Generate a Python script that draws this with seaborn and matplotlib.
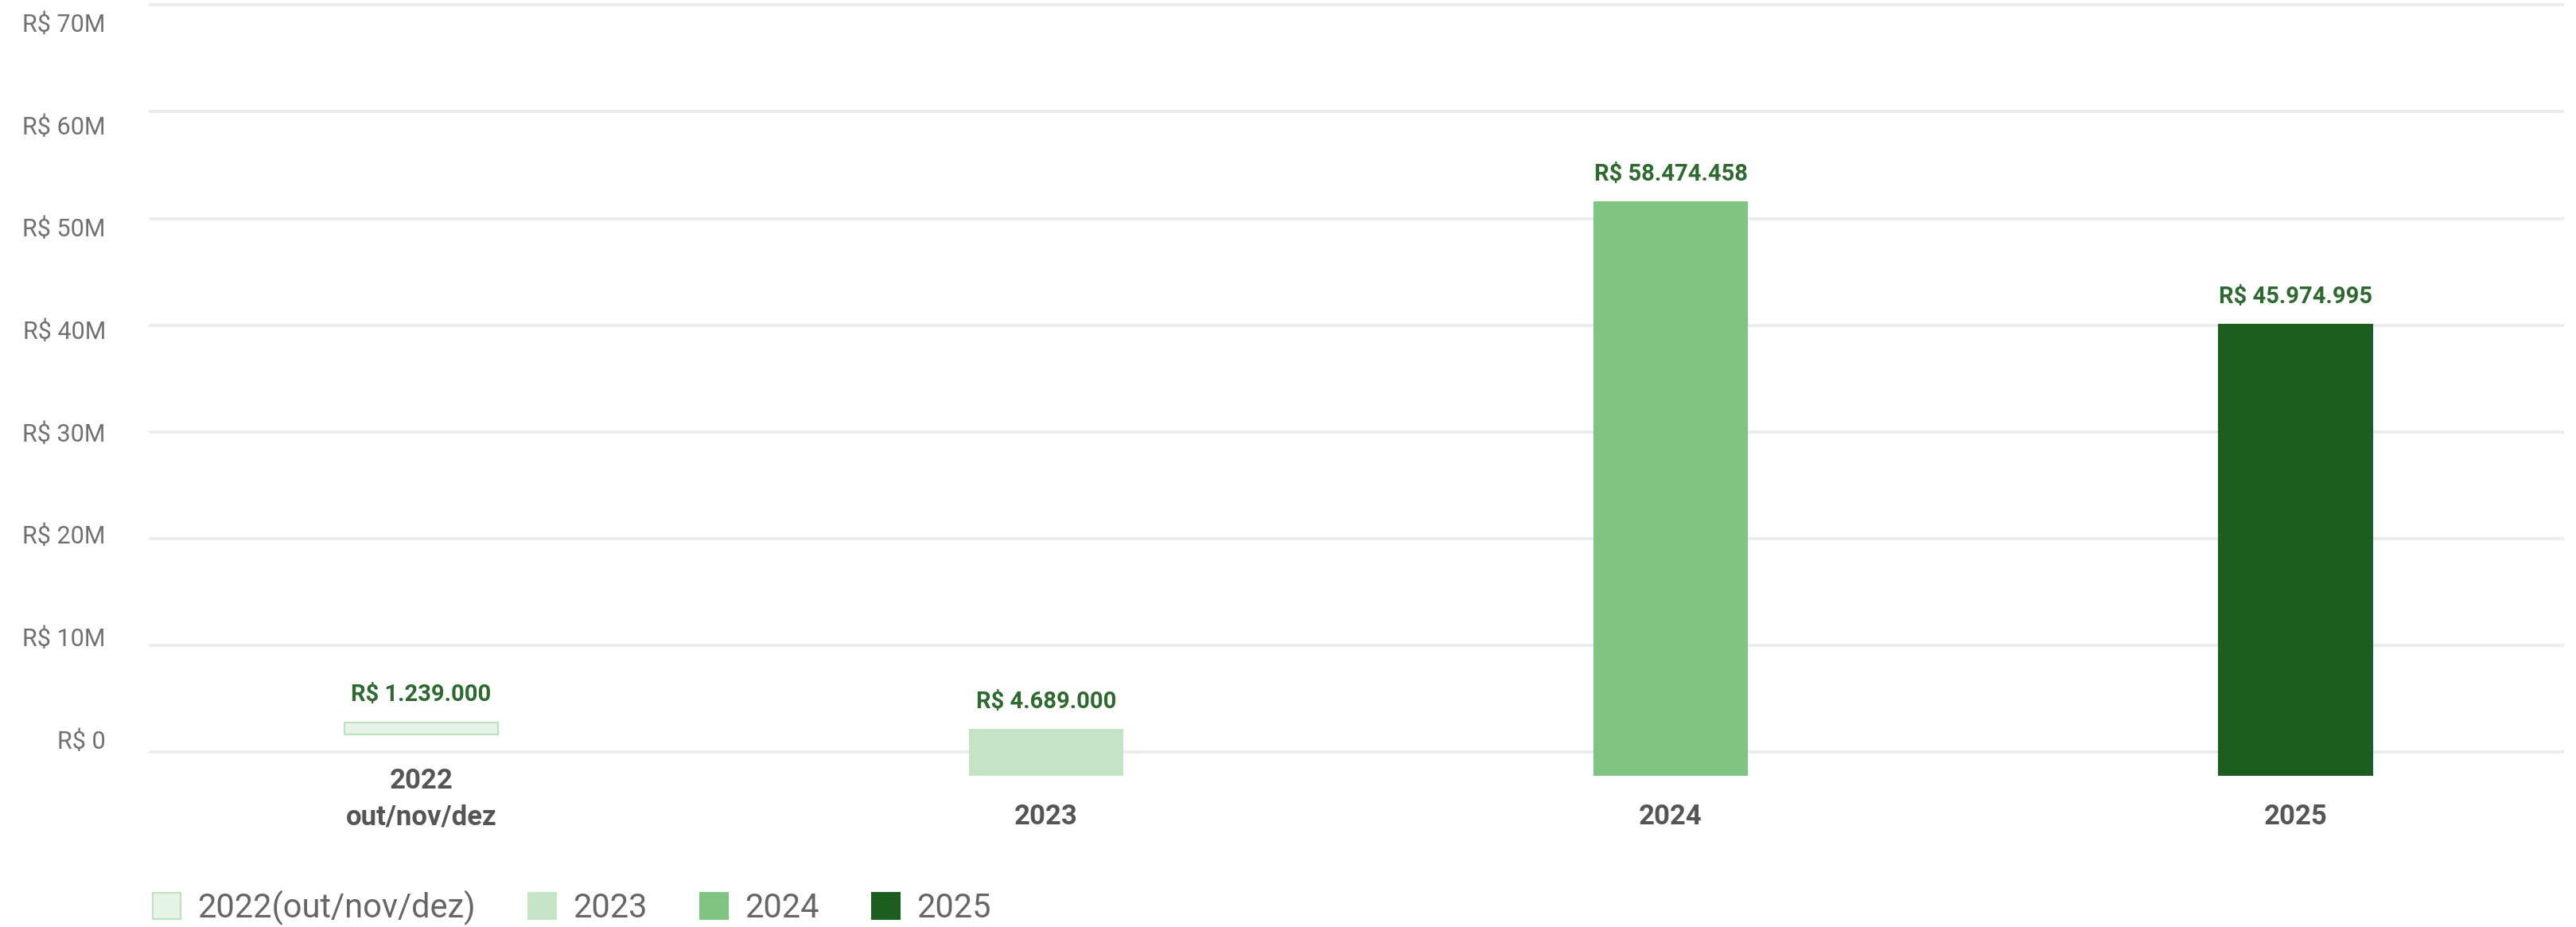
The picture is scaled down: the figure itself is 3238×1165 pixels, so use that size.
import matplotlib
matplotlib.use("Agg")
import matplotlib.pyplot as plt
from matplotlib.patches import Patch
import seaborn as sns
import pandas as pd

# data
periods = ["2022\nout/nov/dez", "2023", "2024", "2025"]
legend_labels = ["2022(out/nov/dez)", "2023", "2024", "2025"]
values = [1239000, 4689000, 58474458, 45974995]
value_labels = ["R$ 1.239.000", "R$ 4.689.000", "R$ 58.474.458", "R$ 45.974.995"]
ytick_values = [0, 10e6, 20e6, 30e6, 40e6, 50e6, 60e6, 70e6]
ytick_labels = ["R$ 0", "R$ 10M", "R$ 20M", "R$ 30M", "R$ 40M", "R$ 50M", "R$ 60M", "R$ 70M"]

fills = ["#e6f3e6", "#c5e4c6", "#80c482", "#1b5e20"]
edges = ["#bfe0c0", "#c5e4c6", "#80c482", "#1b5e20"]

sns.set_style("white")
plt.rcParams['font.family'] = ['Roboto', 'DejaVu Sans']

W, H = 3238, 1165
fig = plt.figure(figsize=(W / 100, H / 100), dpi=100)

# plot box in pixels
left, right, top, bottom = 187, 3223, 0, 975
rect = [left / W, (H - bottom) / H, (right - left) / W, (bottom - top) / H]

# the web chart uses slightly different scales for grid, tick labels and bars
ax = fig.add_axes(rect)          # gridlines
lab = ax.twinx()                 # y tick labels
bx = ax.twinx()                  # bars

ax.set_ylim(-2.237e6, 70.47e6)
ax.set_yticks(ytick_values)
ax.tick_params(axis='y', left=False, labelleft=False)
ax.yaxis.grid(True, color="#ececec", linewidth=2.8)
ax.set_axisbelow(True)

lab.yaxis.tick_left()
lab.set_ylim(-3.574e6, 72.18e6)
lab.set_yticks(ytick_values)
lab.set_yticklabels(ytick_labels)
lab.tick_params(axis='y', length=0, pad=39, labelsize=22, labelcolor="#707070")

df = pd.DataFrame({"periodo": periods, "valor": values})
sns.barplot(data=df, x="periodo", y="valor", hue="periodo", palette=fills,
            saturation=1, width=0.245, legend=False, ax=bx)
bx.set_ylim(0, 79.08e6)
bx.yaxis.set_visible(False)
bx.set_xlabel("")

for patch, ec in zip(bx.patches, edges):
    patch.set_edgecolor(ec)
    patch.set_linewidth(1.5)

# the two-line label lifts the first bar in the original layout
lift_px = 52
bx.patches[0].set_y(lift_px * 79.08e6 / (bottom - top))

for cont, txt in zip(bx.containers, value_labels):
    bx.bar_label(cont, labels=[txt], padding=15, fontsize=21, fontweight="bold", color="#2e6930")

ax.set_xlim(-0.436, 3.43)
ax.set_xticks(range(len(periods)))
ax.set_xticklabels(periods, fontsize=25, fontweight="bold", color="#555555", linespacing=1.45)
ax.tick_params(axis='x', length=0, pad=49)
for t in ax.get_xticklabels():
    t.set_va("bottom")
    t.set_multialignment("center")
ax.set_xlabel("")

for a in (ax, lab, bx):
    for s in a.spines.values():
        s.set_visible(False)

handles = [Patch(facecolor=f, edgecolor=e, linewidth=1.5) for f, e in zip(fills, edges)]
fig.legend(handles, legend_labels, loc="center left", bbox_to_anchor=(192 / W, 1 - 1141 / H),
           ncol=4, frameon=False, fontsize=30, labelcolor="#666666",
           handlelength=0.84, handleheight=0.84, handletextpad=0.5, columnspacing=1.6,
           borderpad=0, borderaxespad=0)

fig.savefig("out.png", dpi=100)
